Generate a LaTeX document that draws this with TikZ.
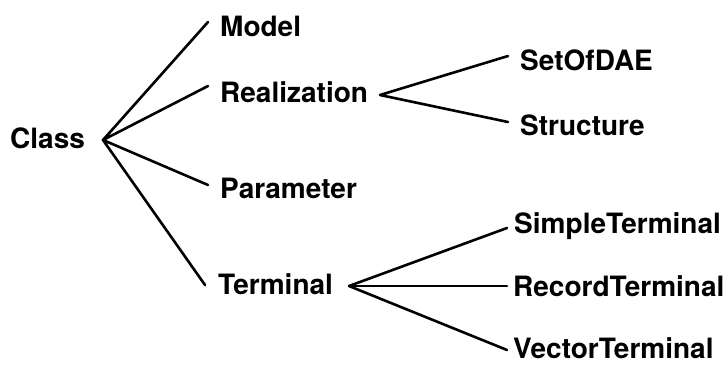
\documentclass[tikz,border=0pt]{standalone}
\usepackage{fontspec}
\setmainfont{TeX Gyre Heros}
\begin{document}
\begin{tikzpicture}[x=1pt,y=-1pt,
  lbl/.style={anchor=base west,inner sep=0pt,font=\fontsize{28}{34}\selectfont\bfseries},
  branch/.style={line width=2.6pt,line cap=round,line join=round}]
\useasboundingbox (0,0) rectangle (726,365);
% labels
\node[lbl] (class) at (10,148) {Class};
\node[lbl] (model) at (220,36) {Model};
\node[lbl] (real) at (220,102) {Realization};
\node[lbl] (param) at (220,198) {Parameter};
\node[lbl] (term) at (218,294) {Terminal};
\node[lbl] (set) at (520,70) {SetOfDAE};
\node[lbl] (struct) at (520,135) {Structure};
\node[lbl] (simple) at (514,233) {SimpleTerminal};
\node[lbl] (record) at (513,296) {RecordTerminal};
\node[lbl] (vector) at (513,358) {VectorTerminal};
% junction points
\coordinate (cv) at (103,140);
\coordinate (rv) at (380,95);
\coordinate (tv) at (349,286);
% line ends
\coordinate (me) at (208,22);
\coordinate (re) at (208,86);
\coordinate (pe) at (208,185);
\coordinate (te) at (205,285);
\coordinate (se) at (508,56);
\coordinate (ste) at (508,122);
\coordinate (sie) at (507,228);
\coordinate (rte) at (507,286);
\coordinate (vte) at (507,350);
% connectors
\draw[branch] (me) -- (cv) -- (re);
\draw[branch] (pe) -- (cv) -- (te);
\draw[branch] (se) -- (rv) -- (ste);
\draw[branch] (sie) -- (tv) -- (vte);
\draw[branch] (tv) -- (rte);
\end{tikzpicture}
\end{document}
